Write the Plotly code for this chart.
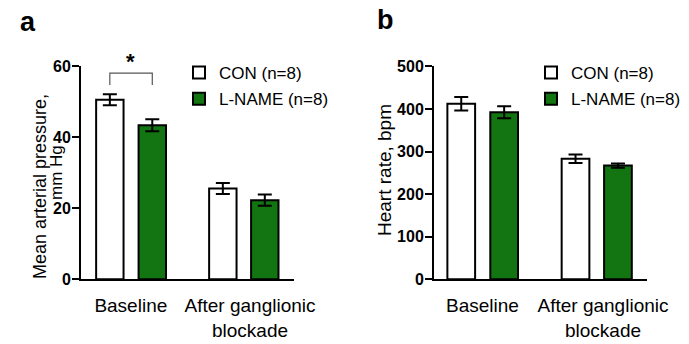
import plotly.graph_objects as go

# ---- data ----
categories = ["Baseline", "After ganglionic<br>blockade"]
series_names = ["CON (n=8)", "L-NAME (n=8)"]

map_con = [50.6, 25.6]
map_con_err = [1.55, 1.55]
map_lname = [43.4, 22.3]
map_lname_err = [1.7, 1.6]

hr_con = [412, 283]
hr_con_err = [16, 10]
hr_lname = [392, 267]
hr_lname_err = [14, 5]

map_ticks = [0, 20, 40, 60]
hr_ticks = [0, 100, 200, 300, 400, 500]

# ---- style ----
FONT = "Liberation Sans, Arial, Helvetica, sans-serif"
GREEN = "#127512"
BAR_W = 0.23
OFF_CON = [-0.291, -0.343]
OFF_LNAME = [0.065, 0.009]

W, H = 689, 344


def px_x(p):
    return p / W


def px_y(p):
    return 1 - p / H


fig = go.Figure()


def add_panel(xa, ya, con, con_err, lname, lname_err, legend):
    fig.add_trace(go.Bar(
        x=categories, y=con, name=series_names[0],
        xaxis=xa, yaxis=ya, width=BAR_W, offset=OFF_CON,
        marker=dict(color="white", line=dict(color="black", width=2)),
        error_y=dict(type="data", array=con_err, visible=True,
                     color="black", thickness=2, width=7),
        legend=legend, legendgroup=legend + "con",
    ))
    fig.add_trace(go.Bar(
        x=categories, y=lname, name=series_names[1],
        xaxis=xa, yaxis=ya, width=BAR_W, offset=OFF_LNAME,
        marker=dict(color=GREEN, line=dict(color="black", width=2)),
        error_y=dict(type="data", array=lname_err, visible=True,
                     color="black", thickness=2, width=7),
        legend=legend, legendgroup=legend + "lname",
    ))


add_panel("x", "y", map_con, map_con_err, map_lname, map_lname_err, "legend")
add_panel("x2", "y2", hr_con, hr_con_err, hr_lname, hr_lname_err, "legend2")

ydom = [px_y(279.3), px_y(66.3)]

xcommon = dict(type="category", showline=True, linecolor="black", linewidth=2,
               ticks="", showgrid=False, zeroline=False, automargin=False,
               tickfont=dict(family=FONT, size=19, color="black"),
               ticklabelstandoff=8)
ycommon = dict(showline=True, linecolor="black", linewidth=2, ticks="outside",
               ticklen=7, tickwidth=2, tickcolor="black", showgrid=False,
               zeroline=False, automargin=False, ticklabelstandoff=-2,
               tickfont=dict(family=FONT, size=16, color="black", weight="bold"))

fig.update_layout(
    width=W, height=H, margin=dict(l=0, r=0, t=0, b=0, autoexpand=False),
    paper_bgcolor="white", plot_bgcolor="white",
    barmode="overlay",
    font=dict(family=FONT, color="black"),
    xaxis=dict(domain=[px_x(81), px_x(294)], range=[-0.418, 1.369],
               anchor="y", **xcommon),
    yaxis=dict(domain=ydom, range=[0, 60], tickvals=map_ticks, anchor="x",
               **ycommon),
    xaxis2=dict(domain=[px_x(434), px_x(647)], range=[-0.402, 1.365],
                anchor="y2", **xcommon),
    yaxis2=dict(domain=ydom, range=[0, 500], tickvals=hr_ticks, anchor="x2",
                **ycommon),
    legend=dict(x=px_x(179), y=px_y(55), xanchor="left", yanchor="top",
                font=dict(family=FONT, size=17, color="black"),
                tracegroupgap=1, bgcolor="rgba(0,0,0,0)"),
    legend2=dict(x=px_x(531), y=px_y(55), xanchor="left", yanchor="top",
                 font=dict(family=FONT, size=17, color="black"),
                 tracegroupgap=1, bgcolor="rgba(0,0,0,0)"),
)

# significance bracket between baseline bars
fig.add_shape(type="path", xref="x", yref="y",
              path="M -0.176,54.7 L -0.176,58.1 L 0.18,58.1 L 0.18,54.7",
              line=dict(color="#555555", width=1.2))
fig.add_annotation(x=0, y=px_y(61.5), xref="x", yref="paper", text="*",
                   showarrow=False,
                   font=dict(family=FONT, size=22, color="black", weight="bold"),
                   xanchor="center", yanchor="middle")

# axis titles
fig.add_annotation(x=px_x(40), y=px_y(187), xref="paper", yref="paper",
                   text="Mean arterial pressure,", textangle=-90, showarrow=False,
                   font=dict(family=FONT, size=18, color="black"),
                   xanchor="center", yanchor="middle")
fig.add_annotation(x=px_x(56), y=px_y(173), xref="paper", yref="paper",
                   text="mm Hg", textangle=-90, showarrow=False,
                   font=dict(family=FONT, size=17, color="black"),
                   xanchor="center", yanchor="middle")
fig.add_annotation(x=px_x(384), y=px_y(170), xref="paper", yref="paper",
                   text="Heart rate, bpm", textangle=-90, showarrow=False,
                   font=dict(family=FONT, size=19, color="black"),
                   xanchor="center", yanchor="middle")

# panel letters
fig.add_annotation(x=px_x(18), y=px_y(22), xref="paper", yref="paper",
                   text="a", showarrow=False,
                   font=dict(family=FONT, size=27, color="black", weight="bold"),
                   xanchor="left", yanchor="middle")
fig.add_annotation(x=px_x(375), y=px_y(20), xref="paper", yref="paper",
                   text="b", showarrow=False,
                   font=dict(family=FONT, size=27, color="black", weight="bold"),
                   xanchor="left", yanchor="middle")

fig.write_html("out.html",
               config={"displayModeBar": False},
               post_script="document.body.style.margin='0';"
                           "document.documentElement.style.overflow='hidden';")
